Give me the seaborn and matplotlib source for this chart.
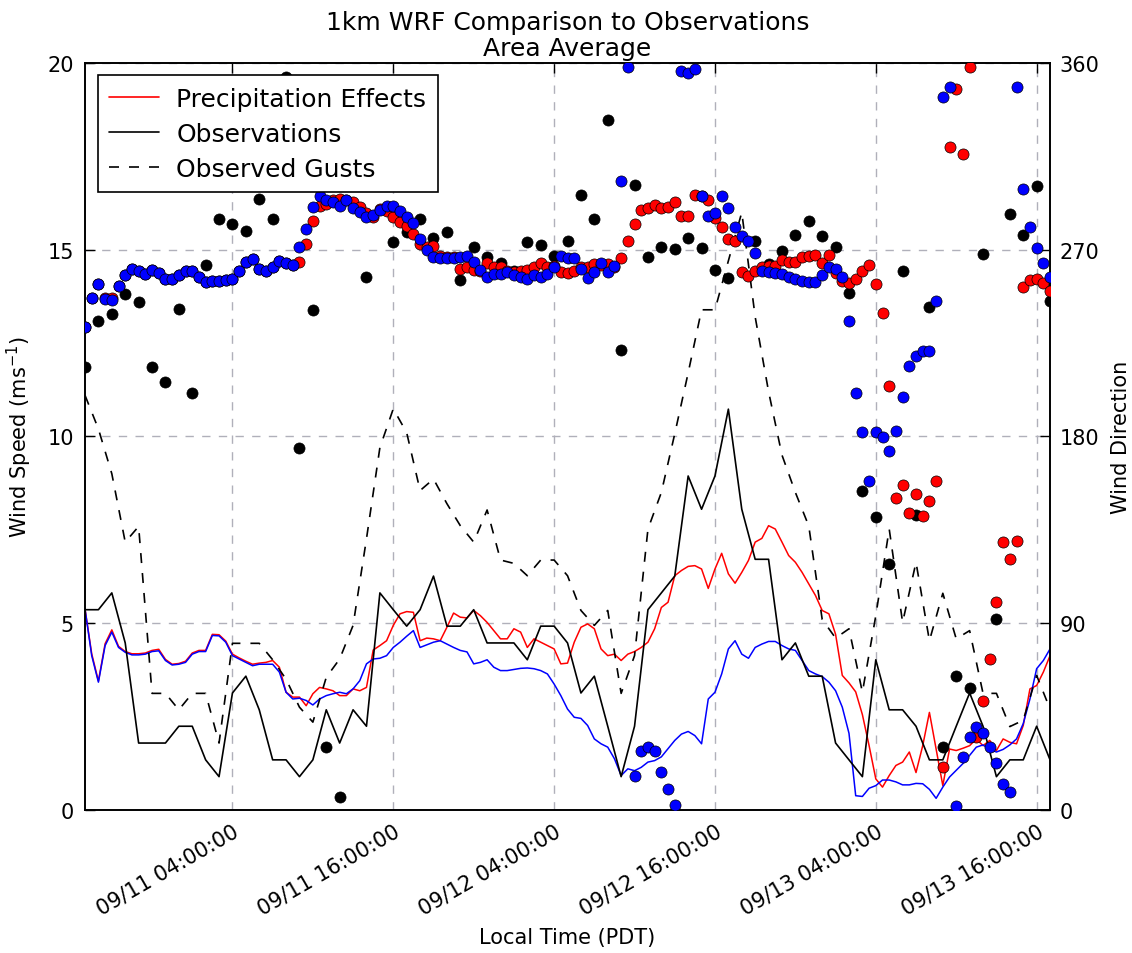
import numpy as np
import pandas as pd
import matplotlib
matplotlib.use("Agg")
import matplotlib.pyplot as plt
import matplotlib.dates as mdates
from matplotlib.lines import Line2D
import seaborn as sns

# ---------------- data ----------------
start = pd.Timestamp("2015-09-10 17:00")
obs_times = pd.date_range(start, periods=73, freq="h")        # hourly observations
model_times = pd.date_range(start, periods=145, freq="30min")  # half-hourly WRF output

# observed wind speed (m/s), hourly
obs_speed = [5.36, 5.36, 5.81, 4.47, 1.79, 1.79, 1.79, 2.24, 2.24, 1.34,
             0.89, 3.13, 3.58, 2.68, 1.34, 1.34, 0.89, 1.34, 2.68, 1.79,
             2.68, 2.24, 5.81, 5.36, 4.92, 5.36, 6.26, 4.92, 4.92, 5.36,
             4.47, 4.47, 4.47, 4.02, 4.92, 4.92, 4.47, 3.13, 3.58, 2.24,
             0.89, 2.24, 5.36, 5.81, 6.26, 8.94, 8.05, 8.94, 10.73, 8.05,
             6.71, 6.71, 4.02, 4.47, 3.58, 3.58, 1.79, 1.34, 0.89, 4.02,
             2.68, 2.68, 2.24, 1.34, 1.34, 2.24, 3.13, 2.24, 0.89, 1.34,
             1.34, 2.24, 1.34]

# observed gusts (m/s), hourly
obs_gust = [11.1, 10.2, 9.0, 7.17, 7.59, 3.12, 3.12, 2.68, 3.12, 3.12,
            1.79, 4.46, 4.46, 4.46, 4.02, 3.5, 2.75, 2.35, 3.55, 4.04,
            4.94, 7.26, 9.7, 10.74, 10.1, 8.55, 8.86, 8.2, 7.61, 7.17,
            8.03, 6.69, 6.6, 6.27, 6.69, 6.69, 6.27, 5.34, 4.94, 5.34,
            3.12, 4.13, 7.52, 8.5, 10.07, 11.7, 13.39, 13.39, 14.7, 16.0,
            13.2, 11.2, 9.5, 8.5, 7.6, 5.1, 4.6, 4.85, 3.15, 5.2,
            7.52, 5.02, 6.63, 4.53, 5.8, 4.58, 4.8, 3.12, 3.12, 2.23,
            2.4, 3.6, 2.7]

# observed wind direction (deg), hourly
obs_dir = [213.6, 235.8, 239.0, 248.7, 244.7, 213.6, 206.1, 241.4, 200.8, 262.8,
           284.8, 282.4, 278.9, 294.5, 284.8, 353.1, 174.3, 241.0, 30.2, 6.4,
           np.nan, 256.7, np.nan, 273.6, 278.4, 284.8, 275.7, 278.4, 255.4, 271.5,
           266.4, 263.5, 259.9, 273.6, 272.4, 267.1, 274.4, 296.4, 284.8, 332.5,
           221.7, 301.4, 266.6, 271.5, 270.4, 275.7, 270.8, 260.2, 256.4, np.nan,
           274.4, 263.1, 269.5, 277.3, 283.6, 276.8, 271.5, 249.0, 153.6, 141.1,
           118.6, 259.6, 142.2, 242.3, 30.2, 64.4, 58.6, 267.9, 92.0, 287.2,
           277.3, 300.9, 245.4]

# WRF run with precipitation effects: speed (m/s), half-hourly
precip_speed = [5.38, 4.18, 3.45, 4.45, 4.82, 4.38, 4.24, 4.18, 4.18, 4.20,
                4.27, 4.30, 4.03, 3.90, 3.92, 3.98, 4.20, 4.27, 4.27, 4.70,
                4.69, 4.52, 4.17, 4.07, 3.98, 3.90, 3.93, 3.95, 4.00, 3.82,
                3.15, 3.02, 3.02, 2.79, 3.11, 3.28, 3.24, 3.19, 3.06, 3.06,
                3.24, 3.19, 3.28, 4.28, 4.40, 4.53, 4.94, 5.25, 5.31, 5.29,
                4.53, 4.60, 4.58, 4.53, 4.89, 5.27, 5.16, 5.14, 5.34, 5.20,
                5.02, 4.80, 4.58, 4.58, 4.85, 4.76, 4.35, 4.58, 4.49, 4.40,
                4.31, 3.91, 3.93, 4.49, 4.89, 4.98, 4.85, 4.31, 4.13, 4.17,
                4.00, 4.17, 4.24, 4.35, 4.49, 4.85, 5.42, 5.56, 6.27, 6.41,
                6.52, 6.54, 6.45, 5.93, 6.45, 6.87, 6.32, 6.07, 6.36, 6.68,
                7.17, 7.27, 7.61, 7.52, 7.17, 6.81, 6.63, 6.36, 6.05, 5.74,
                5.34, 5.25, 4.70, 3.60, 3.40, 3.16, 2.55, 1.72, 0.83, 0.61,
                0.92, 1.19, 1.28, 1.55, 1.00, 1.72, 2.61, 1.63, 0.65, 1.63,
                1.59, 1.65, 1.72, 1.90, 1.72, 1.86, 1.59, 1.90, 1.81, 1.77,
                2.26, 3.24, 3.33, 3.69, 4.13]

# control WRF run: speed (m/s), half-hourly
ctrl_speed = [5.38, 4.13, 3.42, 4.40, 4.76, 4.35, 4.22, 4.15, 4.15, 4.17,
              4.24, 4.26, 4.00, 3.88, 3.90, 3.95, 4.17, 4.24, 4.24, 4.67,
              4.66, 4.49, 4.13, 4.04, 3.95, 3.86, 3.90, 3.90, 3.90, 3.69,
              3.15, 2.97, 2.99, 2.93, 2.81, 2.97, 3.06, 3.11, 3.15, 3.11,
              3.24, 3.46, 3.91, 4.04, 4.06, 4.13, 4.35, 4.49, 4.65, 4.80,
              4.35, 4.42, 4.49, 4.53, 4.44, 4.35, 4.27, 4.23, 3.91, 3.95,
              4.02, 3.82, 3.73, 3.73, 3.76, 3.79, 3.80, 3.78, 3.73, 3.64,
              3.37, 3.06, 2.70, 2.48, 2.45, 2.26, 1.90, 1.77, 1.68, 1.37,
              0.92, 1.10, 1.05, 1.14, 1.28, 1.32, 1.42, 1.64, 1.86, 2.03,
              2.10, 1.99, 1.77, 2.97, 3.15, 3.64, 4.31, 4.53, 4.17, 4.06,
              4.35, 4.44, 4.51, 4.51, 4.40, 4.31, 4.27, 4.00, 3.73, 3.64,
              3.57, 3.42, 3.19, 2.75, 2.05, 0.38, 0.36, 0.58, 0.65, 0.80,
              0.80, 0.75, 0.67, 0.67, 0.71, 0.70, 0.55, 0.31, 0.61, 0.88,
              1.06, 1.24, 1.46, 1.68, 1.74, 1.62, 1.55, 1.62, 1.74, 1.90,
              2.31, 2.97, 3.78, 4.00, 4.31]

# control WRF run: direction (deg), half-hourly
ctrl_dir = [232.9, 246.7, 253.5, 246.3, 245.9, 252.4, 258.0, 260.7, 259.6, 258.3,
            260.2, 258.6, 255.9, 255.9, 258.0, 259.9, 259.6, 256.7, 254.3, 255.1,
            254.8, 255.4, 255.9, 259.9, 263.9, 265.5, 260.7, 259.6, 261.5, 264.7,
            263.4, 262.8, 271.2, 280.0, 290.8, 296.1, 293.7, 292.8, 291.2, 294.0,
            290.1, 288.0, 285.6, 286.9, 289.2, 291.2, 291.2, 288.8, 285.9, 282.7,
            275.2, 269.6, 266.3, 266.0, 266.0, 266.0, 266.7, 267.1, 263.9, 260.2,
            257.0, 258.3, 258.3, 259.1, 258.0, 257.0, 255.9, 258.0, 257.0, 258.3,
            261.5, 267.1, 266.0, 265.9, 260.7, 256.4, 259.1, 263.4, 259.1, 262.3,
            303.0, 357.9, 16.4, 28.6, 30.4, 28.6, 18.3, 10.1, 2.4, 356.3,
            355.0, 357.1, 296.1, 286.4, 287.6, 296.1, 290.1, 281.1, 276.8, 274.4,
            268.3, 259.9, 259.1, 258.6, 258.3, 257.0, 255.9, 255.1, 254.3, 254.3,
            258.0, 261.5, 260.7, 256.7, 235.8, 200.8, 182.0, 158.4, 182.3, 179.6,
            173.2, 182.8, 199.2, 214.1, 218.9, 221.4, 221.4, 245.4, 343.5, 348.3,
            2.1, 25.4, 35.0, 39.8, 37.1, 30.2, 22.5, 12.5, 8.5, 348.3,
            299.3, 281.1, 270.8, 263.5, 257.0]

# WRF run with precipitation effects: direction (deg), half-hourly
precip_dir = [232.9, 246.7, 253.5, 246.8, 246.5, 252.4, 258.0, 260.7, 259.6, 258.3,
              260.2, 258.6, 255.9, 255.9, 258.0, 259.9, 259.6, 256.7, 254.3, 255.1,
              254.8, 255.4, 255.9, 259.9, 263.9, 265.5, 260.7, 259.6, 261.5, 264.7,
              263.4, 262.8, 263.9, 272.5, 284.0, 291.2, 292.1, 293.7, 294.5, 293.7,
              292.8, 290.4, 287.6, 285.6, 289.6, 288.8, 285.6, 283.2, 281.6, 277.6,
              272.8, 271.5, 271.8, 267.1, 266.3, 266.3, 260.7, 261.5, 260.2, 259.9,
              263.4, 261.5, 261.5, 259.9, 259.1, 259.9, 260.2, 261.5, 263.4, 261.5,
              262.3, 259.1, 258.6, 259.6, 261.8, 261.5, 263.1, 262.8, 263.1, 261.5,
              266.0, 274.4, 282.4, 289.2, 290.1, 291.7, 290.1, 290.4, 292.8, 286.4,
              286.4, 296.4, 296.0, 294.0, 285.3, 281.1, 275.2, 274.0, 259.1, 257.5,
              259.9, 261.5, 262.3, 262.3, 265.1, 263.9, 263.9, 266.7, 267.1, 267.3,
              263.4, 267.3, 258.6, 255.1, 253.8, 255.9, 259.9, 262.8, 253.5, 239.4,
              204.5, 150.4, 156.8, 143.1, 152.3, 141.8, 148.8, 158.4, 20.6, 319.7,
              347.5, 316.1, 357.9, 35.0, 52.4, 72.8, 100.1, 129.0, 121.0, 129.8,
              251.9, 255.4, 255.9, 253.8, 250.0]

legend_labels = ["Precipitation Effects", "Observations", "Observed Gusts"]

obs = pd.DataFrame({"time": obs_times, "speed": obs_speed,
                    "gust": obs_gust, "direction": obs_dir})
model = pd.DataFrame({"time": model_times,
                      "precip_speed": precip_speed, "ctrl_speed": ctrl_speed,
                      "precip_dir": precip_dir, "ctrl_dir": ctrl_dir})

# ---------------- style ----------------
sns.set_style("white")
plt.rcParams["font.family"] = ["DejaVu Sans"]
plt.rcParams["lines.dashed_pattern"] = [6, 6]
plt.rcParams["mathtext.default"] = "regular"
for key in ("text.color", "axes.labelcolor", "xtick.color", "ytick.color"):
    plt.rcParams[key] = "black"

fig, ax = plt.subplots(figsize=(11.32, 9.54), dpi=100)
fig.subplots_adjust(left=0.0751, right=0.9276, bottom=0.150, top=0.933)
ax2 = ax.twinx()

# ---------------- wind speed lines (left axis) ----------------
sns.lineplot(data=model, x="time", y="precip_speed", ax=ax, color="red",
             lw=1.1, legend=False, errorbar=None)
sns.lineplot(data=model, x="time", y="ctrl_speed", ax=ax, color="blue",
             lw=1.1, legend=False, errorbar=None)
sns.lineplot(data=obs, x="time", y="speed", ax=ax, color="black",
             lw=1.2, legend=False, errorbar=None)
sns.lineplot(data=obs, x="time", y="gust", ax=ax, color="black",
             lw=1.2, linestyle="--", legend=False, errorbar=None)

# ---------------- wind direction points (right axis) ----------------
sns.scatterplot(data=obs, x="time", y="direction", ax=ax2, color="black",
                edgecolor="black", linewidth=0.5, s=64, legend=False, zorder=3)
sns.scatterplot(data=model, x="time", y="precip_dir", ax=ax2, color="red",
                edgecolor="black", linewidth=0.5, s=64, legend=False, zorder=4)
sns.scatterplot(data=model, x="time", y="ctrl_dir", ax=ax2, color="blue",
                edgecolor="black", linewidth=0.5, s=64, legend=False, zorder=5)

# ---------------- axes ----------------
ax.set_xlim(obs_times[0], obs_times[-1])
ax.set_ylim(0, 20)
ax.set_yticks([0, 5, 10, 15, 20])
ax2.set_ylim(0, 360)
ax2.set_yticks([0, 90, 180, 270, 360])

ax.xaxis.set_major_locator(mdates.HourLocator(byhour=[4, 16]))
ax.xaxis.set_major_formatter(mdates.DateFormatter("%m/%d %H:%M:%S"))
plt.setp(ax.get_xticklabels(), rotation=30, ha="right", rotation_mode="anchor")

ax.grid(True, linestyle="--", color="#b0b0ba", lw=1.0)
ax.tick_params(axis="both", direction="in", length=7, width=1, labelsize=15,
               top=True, right=False, pad=8)
ax2.tick_params(axis="y", direction="in", length=7, width=1, labelsize=15, pad=7)
for a in (ax, ax2):
    for sp in a.spines.values():
        sp.set_color("black")
        sp.set_linewidth(1.2)

ax.set_xlabel("Local Time (PDT)", fontsize=15, labelpad=6)
ax.set_ylabel("Wind Speed (ms$^{-1}$)", fontsize=15, labelpad=10)
ax2.set_ylabel("Wind Direction", fontsize=15, labelpad=8)
ax.set_title("1km WRF Comparison to Observations\nArea Average", fontsize=18,
             pad=6, linespacing=1.1)

# legend sits on the top axes so it hides the points beneath it
handles = [Line2D([], [], color="red", lw=1.2),
           Line2D([], [], color="black", lw=1.2),
           Line2D([], [], color="black", lw=1.2, linestyle="--")]
leg = ax2.legend(handles, legend_labels, loc="upper left", fontsize=18,
                 frameon=True, fancybox=False, handlelength=2.0,
                 handletextpad=0.7, borderaxespad=0.5, labelspacing=0.45,
                 borderpad=0.45)
leg.get_frame().set_edgecolor("black")
leg.get_frame().set_linewidth(1.2)
leg.get_frame().set_alpha(1.0)

fig.savefig("out.png", dpi=100, facecolor="white")
